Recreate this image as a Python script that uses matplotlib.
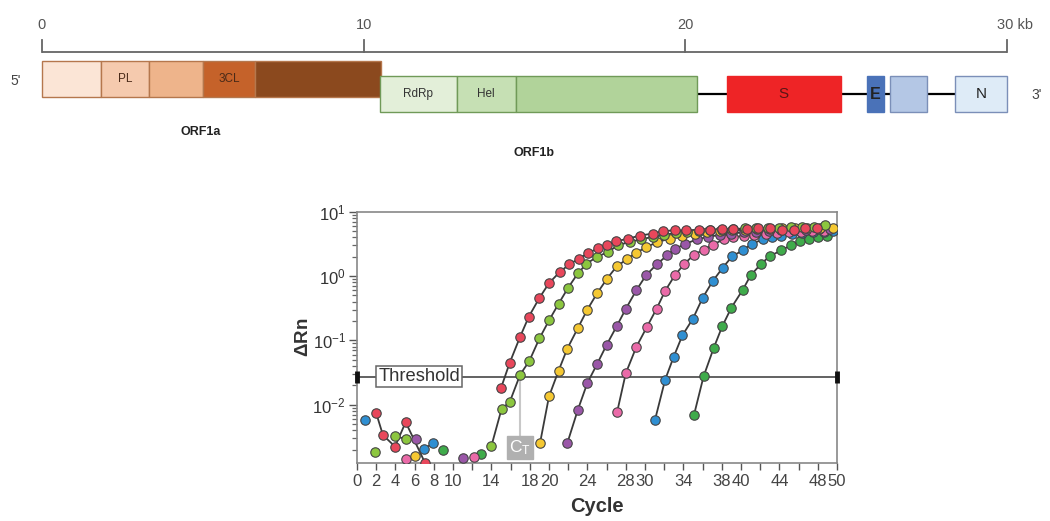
import numpy as np
import matplotlib
matplotlib.use("Agg")
import matplotlib.pyplot as plt

plt.rcParams['font.family'] = ['Liberation Sans', 'DejaVu Sans']
plt.rcParams['mathtext.default'] = 'regular'

# ---- genome map data (kb) ----
orf1a_edges = [0.0, 1.84, 3.33, 5.01, 6.63, 10.53]
orf1a_labels = ['', 'PL', '', '3CL', '']
orf1a_colors = ['#fbe5d6', '#f5caae', '#eeb48b', '#c5622a', '#8b491e']
orf1b_edges = [10.5, 12.89, 14.73, 20.36]
orf1b_labels = ['RdRp', 'Hel', '']
orf1b_colors = ['#e3efd9', '#c6e0b4', '#b1d39a']
struct_names = ['S', 'E', '', 'N']
struct_start = [21.28, 25.63, 26.37, 28.37]
struct_end = [24.82, 26.17, 27.49, 29.99]
struct_colors = ['#ee2426', '#4a72b8', '#b4c7e5', '#deebf7']
scale_ticks = [0, 10, 20, 30]
scale_labels = ['0', '10', '20', '30 kb']

# ---- qPCR amplification data (cycle, log10 dRn); nan breaks the line ----
nan = np.nan
red_cycle = [1.98, 2.7, 3.96, 5.07, 7.08, nan, 15.0, 15.9, 17.0, 17.9, 19.0, 20.0,
             21.1, 22.1, 23.1, 24.1, 25.1, 26.0, 27.0, 28.2, 29.5, 30.8, 31.9, 33.1,
             34.3, 35.6, 36.8, 38.0, 39.2, 40.6, 41.8, 43.0, 44.3, 45.5, 46.7, 47.9]
red_log = [-2.12, -2.47, -2.65, -2.27, -2.9, nan, -1.74, -1.35, -0.94, -0.63, -0.34, -0.11,
           0.06, 0.18, 0.27, 0.36, 0.43, 0.48, 0.54, 0.58, 0.63, 0.66, 0.70, 0.71,
           0.71, 0.72, 0.72, 0.73, 0.73, 0.73, 0.75, 0.74, 0.72, 0.72, 0.74, 0.75]
lgreen_cycle = [1.9, nan, 3.96, 5.07, nan, 14.0, 15.07, 15.9, 17.0, 17.95, 19.0, 20.0,
                21.0, 22.0, 23.0, 23.9, 25.0, 26.1, 27.2, 28.4, 29.6, 30.8, 32.0, 33.2,
                34.4, 35.6, 36.8, 38.0, 39.2, 40.4, 41.6, 42.8, 44.0, 45.2, 46.4, 47.6, 48.8]
lgreen_log = [-2.73, nan, -2.49, -2.53, nan, -2.64, -2.06, -1.96, -1.53, -1.32, -0.97, -0.69,
              -0.43, -0.18, 0.04, 0.19, 0.30, 0.37, 0.48, 0.53, 0.57, 0.61, 0.64, 0.67,
              0.69, 0.70, 0.71, 0.72, 0.73, 0.74, 0.74, 0.75, 0.75, 0.76, 0.77, 0.77, 0.79]
yellow_cycle = [6.04, nan, 19.06, 20.0, 21.0, 21.9, 23.0, 24.0, 25.0, 26.05, 27.05, 28.1,
                29.05, 30.15, 31.3, 32.6, 33.9, 35.2, 36.5, 37.8, 39.1, 40.4, 41.7, 43.0,
                44.3, 45.6, 46.9, 48.2, 49.6]
yellow_log = [-2.79, nan, -2.60, -1.87, -1.47, -1.13, -0.81, -0.52, -0.27, -0.04, 0.15, 0.26,
              0.36, 0.45, 0.53, 0.58, 0.63, 0.66, 0.68, 0.70, 0.71, 0.72, 0.73, 0.73,
              0.74, 0.74, 0.75, 0.75, 0.75]
purple_cycle = [6.1, nan, 11.0, nan, 21.9, 23.0, 24.0, 25.0, 26.0, 27.05, 28.0, 29.1, 30.1,
                31.2, 32.3, 33.1, 34.2, 35.4, 36.6, 37.8, 39.0, 40.3, 41.6, 42.9, 44.2,
                45.5, 46.8, 48.1, 49.3]
purple_log = [-2.53, nan, -2.82, nan, -2.60, -2.08, -1.66, -1.37, -1.07, -0.78, -0.51, -0.22, 0.01,
              0.18, 0.32, 0.42, 0.50, 0.57, 0.61, 0.64, 0.66, 0.68, 0.69, 0.70, 0.71,
              0.72, 0.72, 0.73, 0.73]
pink_cycle = [5.07, nan, 12.2, nan, 27.1, 28.0, 29.1, 30.2, 31.2, 32.1, 33.1, 34.1, 35.1,
              36.1, 37.1, 38.2, 39.2, 40.3, 41.4, 42.6, 43.8, 45.0, 46.2, 47.4, 48.6]
pink_log = [-2.84, nan, -2.81, nan, -2.11, -1.51, -1.10, -0.79, -0.51, -0.23, 0.01, 0.19, 0.33,
            0.41, 0.49, 0.57, 0.61, 0.62, 0.64, 0.66, 0.67, 0.68, 0.69, 0.70, 0.70]
blue_cycle = [0.83, nan, 6.98, 7.95, nan, 31.05, 32.1, 33.0, 33.9, 35.0, 36.0, 37.05, 38.1,
              39.1, 40.2, 41.1, 42.3, 43.2, 44.2, 45.3, 46.4, 47.5, 48.6, 49.6]
blue_log = [-2.23, nan, -2.68, -2.60, nan, -2.23, -1.61, -1.25, -0.92, -0.66, -0.34, -0.08, 0.13,
            0.31, 0.40, 0.50, 0.57, 0.61, 0.63, 0.65, 0.67, 0.68, 0.69, 0.70]
dgreen_cycle = [9.0, nan, 12.9, nan, 35.1, 36.1, 37.15, 38.05, 39.0, 40.2, 41.0, 42.1, 43.0,
                44.2, 45.2, 46.1, 47.1, 48.0, 49.0]
dgreen_log = [-2.71, nan, -2.77, nan, -2.16, -1.56, -1.12, -0.78, -0.49, -0.21, 0.01, 0.19, 0.31,
              0.40, 0.48, 0.54, 0.58, 0.61, 0.63]

threshold = 0.0275
ct_cycle = 16.93
x_tick_labels = [0, 2, 4, 6, 8, 10, 14, 18, 20, 24, 28, 30, 34, 38, 40, 44, 48, 50]

series = [
    (dgreen_cycle, dgreen_log, '#3fab4b'),
    (blue_cycle, blue_log, '#2f8fd2'),
    (pink_cycle, pink_log, '#ea6aa8'),
    (purple_cycle, purple_log, '#9a57a8'),
    (yellow_cycle, yellow_log, '#f5c832'),
    (lgreen_cycle, lgreen_log, '#8cc63f'),
    (red_cycle, red_log, '#e8475b'),
]

fig = plt.figure(figsize=(10.5, 5.21), dpi=100)

# ================= genome map =================
H = 521.0
gax = fig.add_axes([0, 1 - 175 / H, 1, 175 / H])
px_per_kb = (1007.3 - 41.7) / 30
gax.set_xlim(-41.7 / px_per_kb, (1050 - 41.7) / px_per_kb)
gax.set_ylim(175, 0)
gax.axis('off')

# scale bar
gax.plot([0, 30], [51.7, 51.7], color='#666666', lw=1.3, solid_capstyle='butt')
for t, lab in zip(scale_ticks, scale_labels):
    gax.plot([t, t], [40, 51.7], color='#666666', lw=1.3)
    if lab.endswith('kb'):
        gax.text(t - 10 / px_per_kb, 25, lab, ha='left', va='center',
                 fontsize=10.5, color='#555555')
    else:
        gax.text(t, 25, lab, ha='center', va='center', fontsize=10.5, color='#555555')

# backbone line between structural genes
gax.plot([orf1b_edges[-1], struct_start[-1]], [94, 94], color='black', lw=1.6, zorder=1)

for i in range(len(orf1a_labels)):
    l, r = orf1a_edges[i], orf1a_edges[i + 1]
    gax.barh(78.7, r - l, left=l, height=36, color=orf1a_colors[i],
             edgecolor='#b5774d', lw=1, zorder=2)
    if orf1a_labels[i]:
        gax.text((l + r) / 2, 78.7, orf1a_labels[i], ha='center', va='center',
                 fontsize=8.5, color='#4a2a18', zorder=3)
for i in range(len(orf1b_labels)):
    l, r = orf1b_edges[i], orf1b_edges[i + 1]
    gax.barh(93.8, r - l, left=l, height=35.7, color=orf1b_colors[i],
             edgecolor='#709a58', lw=1, zorder=2)
    if orf1b_labels[i]:
        gax.text((l + r) / 2, 93.8, orf1b_labels[i], ha='center', va='center',
                 fontsize=8.5, color='#333333', zorder=3)
struct_edge = ['#ee2426', '#4a72b8', '#7b8fb8', '#7b8fb8']
for name, s, e, c, ec in zip(struct_names, struct_start, struct_end, struct_colors, struct_edge):
    gax.barh(94, e - s, left=s, height=36.5, color=c, edgecolor=ec, lw=1, zorder=2)
    if name:
        gax.text((s + e) / 2, 94.5, name, ha='center', va='center', zorder=3,
                 fontsize=11 if name != 'E' else 11.5,
                 fontweight='bold' if name == 'E' else 'normal',
                 color='#5a1515' if name == 'S' else '#222222')

gax.text(-0.8, 81, "5'", ha='center', va='center', fontsize=10, color='#444444')
gax.text(30.9, 95, "3'", ha='center', va='center', fontsize=10, color='#444444')
gax.text(4.95, 132, 'ORF1a', ha='center', va='center', fontsize=9, fontweight='bold', color='#222222')
gax.text(15.3, 153, 'ORF1b', ha='center', va='center', fontsize=9, fontweight='bold', color='#222222')

# ================= amplification plot =================
ax = fig.add_axes([357 / 1050, (H - 462.7) / H, 480 / 1050, 251 / H])
ax.set_yscale('log')
ax.set_xlim(0, 50)
ax.set_ylim(10 ** -2.9, 10 ** 1)

for cyc, lg, col in series:
    ax.plot(cyc, 10 ** np.array(lg), color='#3a3a3a', lw=1.3, zorder=2)
for k, (cyc, lg, col) in enumerate(series):
    ax.plot(cyc, 10 ** np.array(lg), ls='none', marker='o', ms=6.8,
            mfc=col, mec='#444444', mew=0.8, zorder=3 + k)

# threshold
ax.plot([0, 50], [threshold, threshold], color='#555555', lw=1.3, zorder=1)
ax.plot([0, 50], [threshold, threshold], ls='none', marker='|', ms=8, mew=3.5,
        color='#111111', clip_on=False, zorder=12)
ax.text(6.5, threshold, 'Threshold', ha='center', va='center', fontsize=13.2,
        color='#333333', zorder=11,
        bbox=dict(boxstyle='square,pad=0.12', facecolor='white', edgecolor='#666666', lw=1.1))

# Ct marker
ax.plot([ct_cycle, ct_cycle], [threshold, 10 ** -2.47], color='#c8c8c8', lw=1.5, zorder=1)
ax.text(ct_cycle, 10 ** -2.67, r'C$_{T}$', ha='center', va='center', fontsize=12.5,
        color='white', zorder=11,
        bbox=dict(boxstyle='square,pad=0.12', facecolor='#b0b0b0', edgecolor='#b0b0b0'))

ax.set_xticks(np.arange(0, 51, 2))
ax.set_xticklabels([str(t) if t in x_tick_labels else '' for t in range(0, 51, 2)])
ax.set_yticks([1e-2, 1e-1, 1e0, 1e1])
ax.tick_params(axis='x', direction='out', length=5, width=1, color='#555555',
               labelsize=12, labelcolor='#444444', pad=3)
ax.tick_params(axis='y', which='major', direction='out', length=6, width=1, color='#555555',
               labelsize=12, labelcolor='#333333', pad=2)
ax.tick_params(axis='y', which='minor', direction='out', length=3.5, width=0.9, color='#666666')
for sp in ax.spines.values():
    sp.set_color('#888888')
    sp.set_linewidth(1.2)

ax.set_xlabel('Cycle', fontsize=14.5, fontweight='bold', color='#333333', labelpad=6)
ax.set_ylabel(r'$\Delta$Rn', fontsize=13.5, fontweight='bold', color='#333333', labelpad=0)

fig.savefig('out.png', dpi=100)
